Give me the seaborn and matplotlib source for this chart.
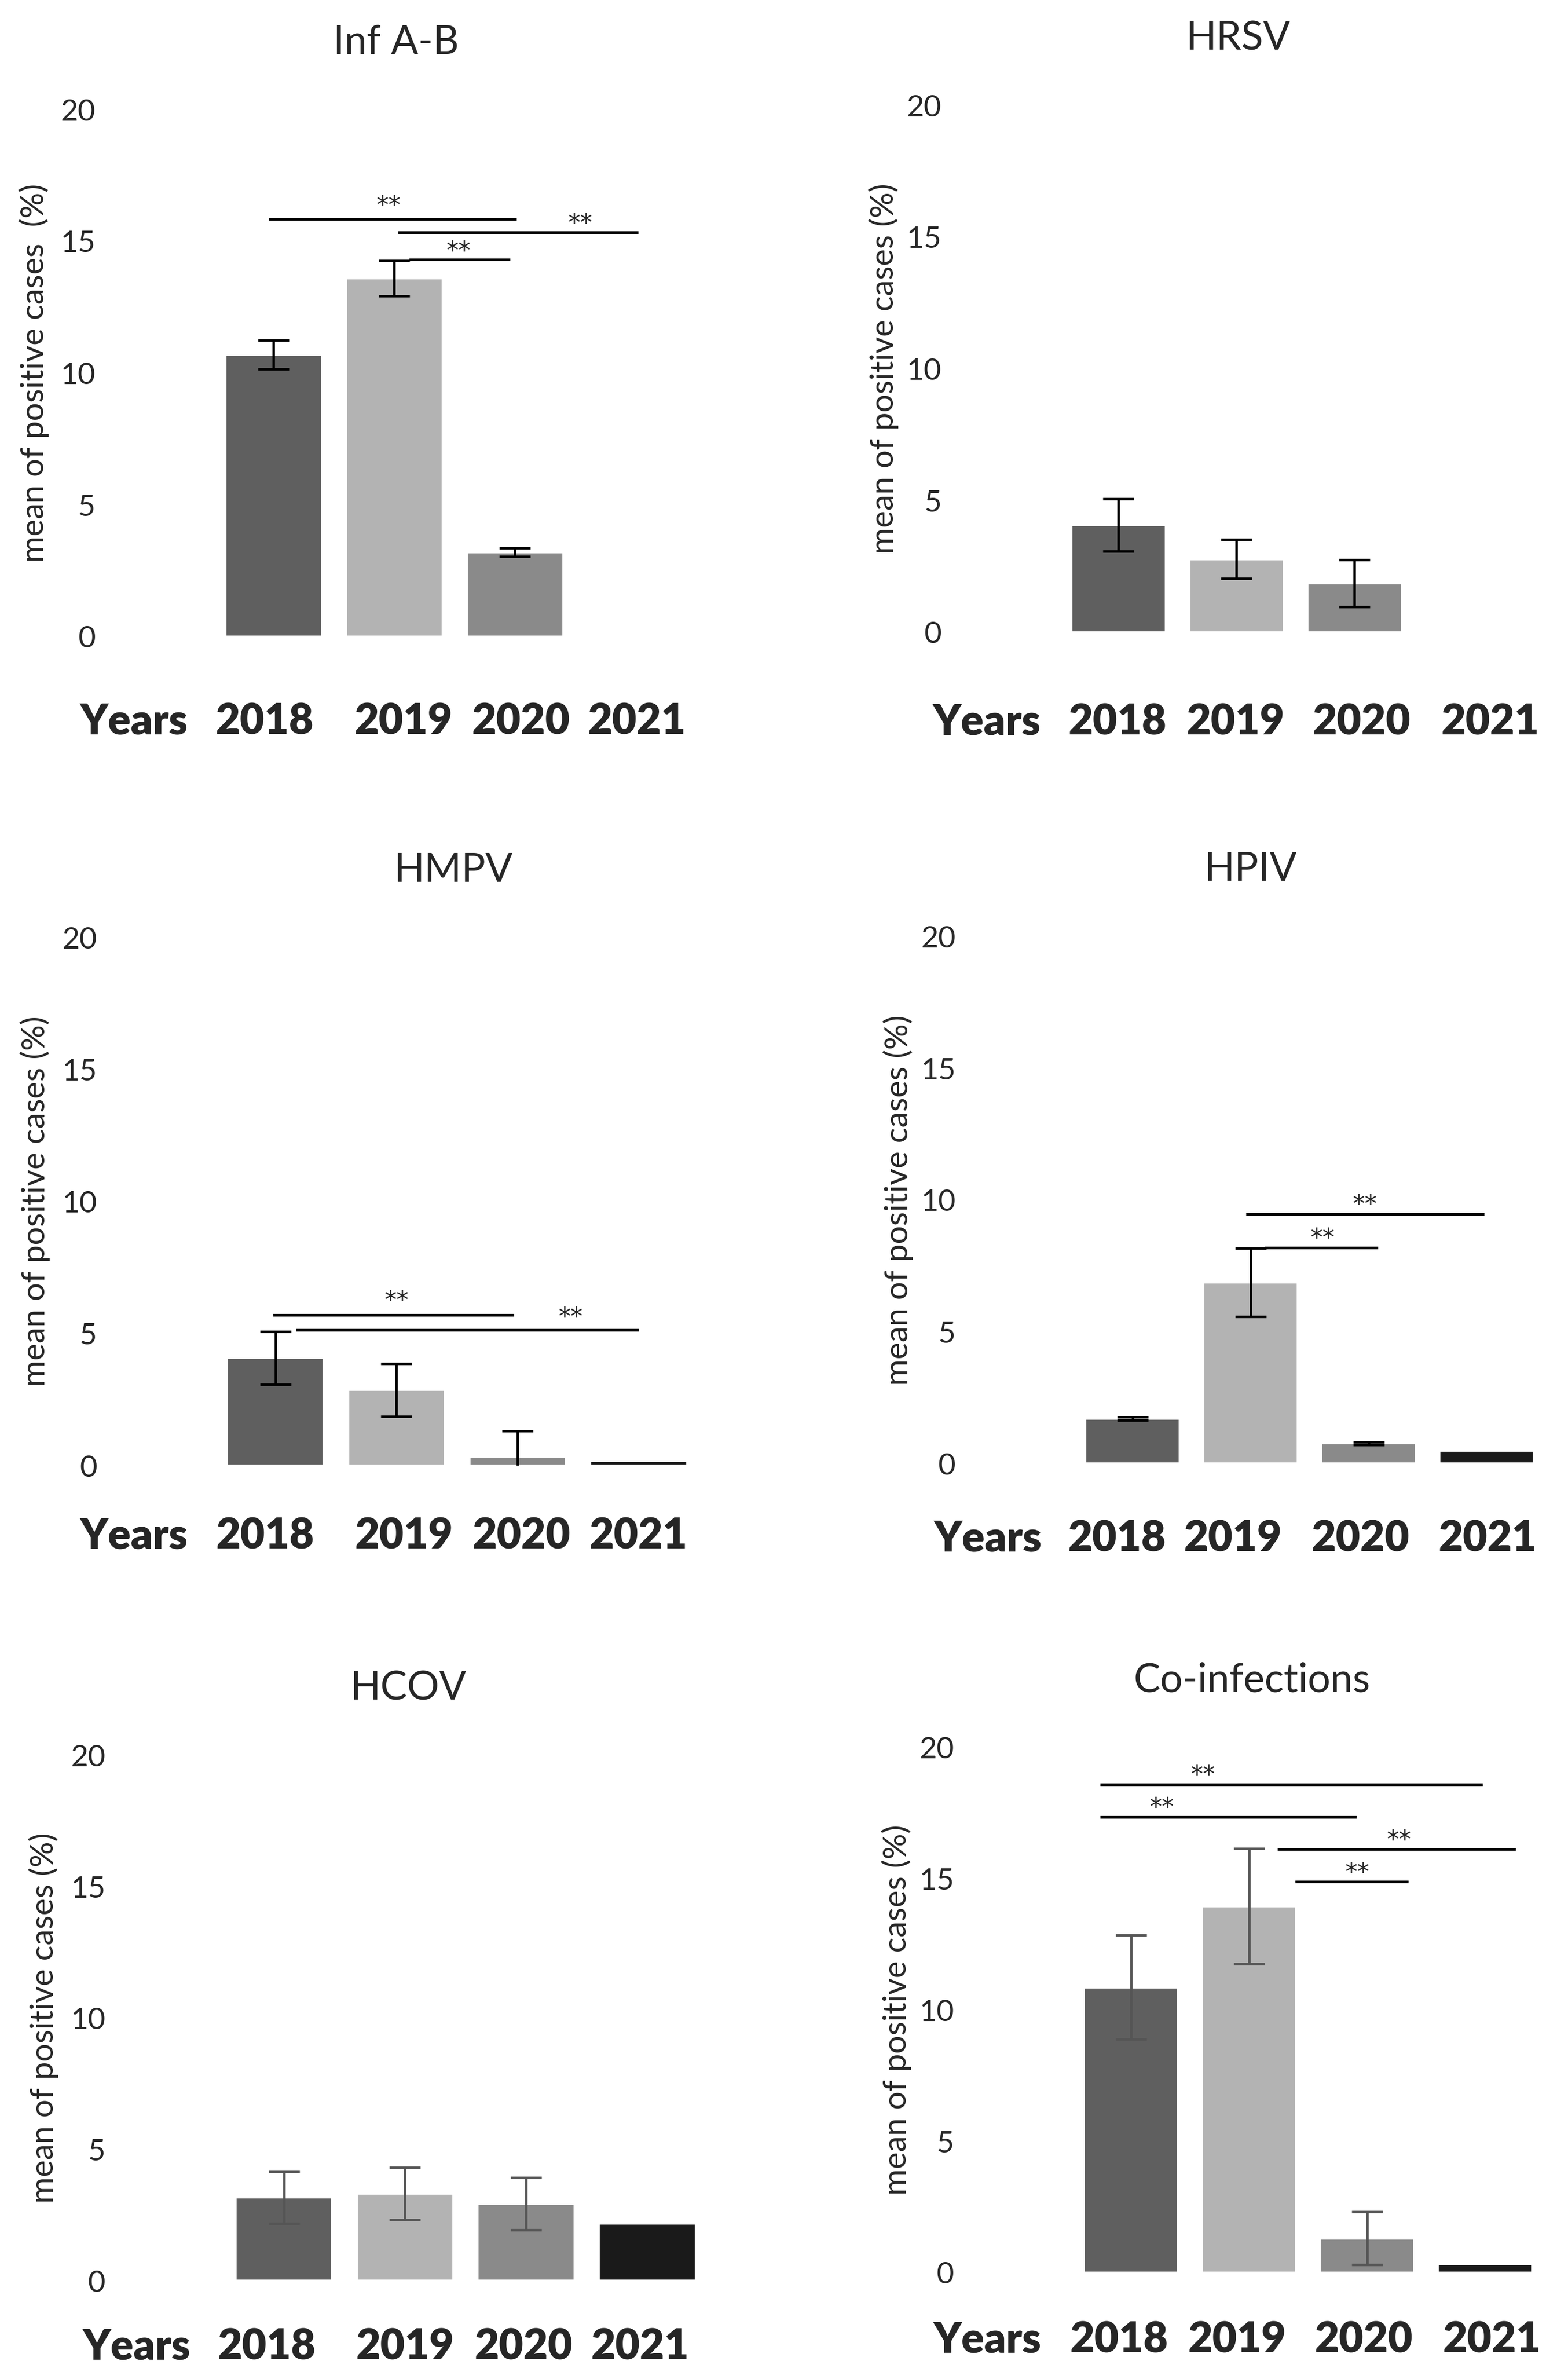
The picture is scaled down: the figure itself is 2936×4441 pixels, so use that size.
import numpy as np
import pandas as pd
import matplotlib
matplotlib.use("Agg")
import matplotlib.pyplot as plt
import seaborn as sns

# values (mean % of positive cases, error half-width)
years = ["2018", "2019", "2020", "2021"]
bar_colors = ["#5f5f5f", "#b3b3b3", "#8a8a8a", "#1a1a1a"]

infab_mean = [10.7, 13.6, 3.2, np.nan]
infab_err = [0.55, 0.67, 0.17, np.nan]

hrsv_mean = [4.08, 2.78, 1.86, np.nan]
hrsv_err = [0.99, 0.74, 0.89, np.nan]

hmpv_mean = [4.08, 2.87, 0.35, 0.18]
hmpv_err = [1.0, 1.0, 0.96, np.nan]

hpiv_mean = [1.71, 6.87, 0.77, 0.49]
hpiv_err = [0.06, 1.3, 0.05, np.nan]

hcov_mean = [3.17, 3.32, 2.93, 2.18]
hcov_err = [0.99, 1.0, 1.0, np.nan]

coinf_mean = [10.87, 13.95, 1.31, 0.32]
coinf_err = [1.99, 2.2, 1.0, np.nan]

# significance brackets: (x start, x end, line y, star x, star y)
infab_sig = [(-0.04, 2.01, 15.85, 0.95, 16.57),
             (1.03, 3.02, 15.35, 2.54, 15.91),
             (1.12, 1.96, 14.3, 1.53, 14.84)]
hmpv_sig = [(-0.02, 1.97, 5.71, 1.0, 6.46),
            (0.17, 3.0, 5.13, 2.44, 5.84)]
hpiv_sig = [(0.96, 2.98, 9.46, 1.97, 10.05),
            (1.12, 2.08, 8.19, 1.61, 8.77)]
coinf_sig = [(-0.26, 2.98, 18.6, 0.61, 19.18),
             (-0.26, 1.91, 17.35, 0.26, 17.93),
             (1.24, 3.26, 16.13, 2.27, 16.69),
             (1.39, 2.35, 14.88, 1.92, 15.44)]

panels = [
    ("Inf A-B", infab_mean, infab_err, infab_sig, "black", "mean of positive cases  (%)"),
    ("HRSV", hrsv_mean, hrsv_err, [], "black", "mean of positive cases (%)"),
    ("HMPV", hmpv_mean, hmpv_err, hmpv_sig, "black", "mean of positive cases (%)"),
    ("HPIV", hpiv_mean, hpiv_err, hpiv_sig, "black", "mean of positive cases (%)"),
    ("HCOV", hcov_mean, hcov_err, [], "#555555", "mean of positive cases (%)"),
    ("Co-infections", coinf_mean, coinf_err, coinf_sig, "#555555", "mean of positive cases (%)"),
]

# layout per panel: axes rect [left, bottom, width, height] (figure fraction),
# title x (axes fraction), x tick label pad (pt), year label x positions (data),
# "Years" x (axes fraction)
boxes = [
    ([0.1360, 0.7316, 0.3078, 0.2222], 0.379, 29.5, [-0.075, 1.075, 2.05, 3.01], -0.165),
    ([0.6755, 0.7334, 0.3010, 0.2222], 0.378, 31.5, [-0.01, 0.99, 2.06, 3.15], -0.155),
    ([0.1370, 0.3821, 0.3088, 0.2227], 0.492, 23.0, [-0.087, 1.06, 2.03, 3.0], -0.1675),
    ([0.6844, 0.3830, 0.3010, 0.2222], 0.375, 25.0, [-0.13, 0.85, 1.93, 3.01], -0.1825),
    ([0.1424, 0.0385, 0.3088, 0.2214], 0.381, 21.0, [-0.14, 1.0, 1.98, 2.94], -0.18),
    ([0.6834, 0.0419, 0.3010, 0.2214], 0.381, 21.5, [-0.1, 0.9, 1.97, 3.06], -0.18),
]

sns.set_style("white")
plt.rcParams["font.family"] = ["Lato", "DejaVu Sans"]

fig = plt.figure(figsize=(2937 / 300, 4441 / 300), dpi=300)

for (title, means, errs, sig, ecolor, ylab), (rect, tx, xpad, tickx, yrx) in zip(panels, boxes):
    ax = fig.add_axes(rect)
    df = pd.DataFrame({"Year": years, "Mean": means, "Err": errs})
    sns.barplot(
        data=df.dropna(subset=["Mean"]),
        x="Year",
        y="Mean",
        hue="Year",
        order=years,
        hue_order=years,
        palette=bar_colors,
        errorbar=None,
        width=0.8,
        saturation=1,
        legend=False,
        ax=ax,
    )
    xpos = np.arange(len(years))
    ax.errorbar(xpos, df["Mean"], yerr=df["Err"], fmt="none",
                ecolor=ecolor, elinewidth=1.1, capsize=7, capthick=1.1)

    for x0, x1, y, sx, sy in sig:
        ax.plot([x0, x1], [y, y], color="black", lw=1.2, solid_capstyle="butt")
        ax.text(sx, sy - 0.5, "**", ha="center", va="baseline",
                fontsize=11, family="DejaVu Sans")

    ax.set_xlim(-0.5, 3.5)
    ax.set_ylim(0, 20)
    ax.set_yticks([0, 5, 10, 15, 20])
    ax.set_xticks(tickx)
    ax.set_xticklabels(years, fontsize=19, fontweight="heavy")
    ax.tick_params(axis="y", length=0, pad=53, labelsize=13.5)
    ax.tick_params(axis="x", length=0, pad=xpad)
    ax.set_xlabel("")
    ax.set_ylabel(ylab, fontsize=14.5)
    ax.yaxis.set_label_coords(-0.34, 0.5)
    ax.set_title(title, fontsize=18, x=tx, pad=25)
    ax.annotate("Years", xy=(yrx, 0), xycoords="axes fraction",
                xytext=(0, -xpad), textcoords="offset points",
                ha="center", va="top", fontsize=19, fontweight="heavy")
    sns.despine(ax=ax, left=True, bottom=True)

fig.savefig("out.png", dpi=300)
